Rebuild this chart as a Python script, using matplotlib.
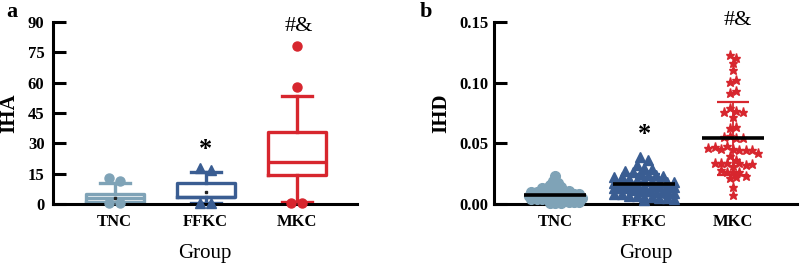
import numpy as np
import matplotlib
matplotlib.use("Agg")
import matplotlib.pyplot as plt

plt.rcParams["font.family"] = ["Liberation Serif", "DejaVu Serif"]

GROUPS = ["TNC", "FFKC", "MKC"]
COLORS = ["#7fa3b7", "#3a5d92", "#d7262e"]

# panel a: box plot summaries of IHA
IHA_Q1 = [1.2, 3.3, 14.4]
IHA_MED = [3.1, 3.6, 21.0]
IHA_Q3 = [4.8, 10.2, 35.5]
IHA_LO = [0.5, 0.5, 0.8]
IHA_HI = [10.2, 15.7, 53.6]
IHA_MEAN = [3.1, 5.8, np.nan]
IHA_FLIERS = [
    [12.9, 11.5, 0.6, 0.6],
    [17.7, 16.8, 0.3, 0.3],
    [78.4, 57.8, 0.3, 0.3],
]
IHA_TICKS = [0, 15, 30, 45, 60, 75, 90]

# panel b: individual IHD values
IHD_TNC = [0.023, 0.019, 0.017, 0.016, 0.015, 0.014, 0.013, 0.013, 0.012, 0.012,
           0.011, 0.011, 0.010, 0.010, 0.010, 0.009, 0.009, 0.009, 0.008, 0.008,
           0.008, 0.008, 0.007, 0.007, 0.007, 0.007, 0.007, 0.006, 0.006, 0.006,
           0.006, 0.006, 0.005, 0.005, 0.005, 0.005, 0.005, 0.004, 0.004, 0.004,
           0.004, 0.003, 0.003, 0.003, 0.002, 0.002, 0.002, 0.001, 0.001, 0.001]
IHD_FFKC = [0.039, 0.036, 0.032, 0.030, 0.029, 0.027, 0.026, 0.025, 0.024, 0.024,
            0.023, 0.022, 0.022, 0.021, 0.020, 0.020, 0.019, 0.019, 0.018, 0.018,
            0.017, 0.017, 0.016, 0.016, 0.015, 0.015, 0.015, 0.014, 0.014, 0.013,
            0.013, 0.013, 0.012, 0.012, 0.011, 0.011, 0.010, 0.010, 0.009, 0.009,
            0.008, 0.008, 0.007, 0.007, 0.006, 0.006, 0.005, 0.005, 0.004, 0.003]
IHD_MKC = [0.1226, 0.1207, 0.1160, 0.1105, 0.1008, 0.1022, 0.0917, 0.0930,
           0.0757, 0.0715, 0.0793, 0.0765, 0.0757, 0.0627, 0.0635,
           0.0552, 0.0563, 0.0544, 0.0544,
           0.0461, 0.0470, 0.0453, 0.0475, 0.0456, 0.0447, 0.0447, 0.0447, 0.0420,
           0.0398, 0.0365, 0.0337, 0.0337, 0.0337, 0.0315, 0.0337, 0.0323, 0.0331,
           0.0282, 0.0268, 0.0260, 0.0260, 0.0232, 0.0213, 0.0221, 0.0144, 0.0075]
IHD_TICKS = [0.00, 0.05, 0.10, 0.15]

MARKERS = ["o", "^", "*"]


def spread(values, dy, dx, max_half):
    """Row-wise horizontal spread like a dot plot."""
    values = np.asarray(values, float)
    order = np.argsort(-values, kind="stable")
    rows, cur = [], []
    for i in order:
        if cur and values[cur[0]] - values[i] > dy:
            rows.append(cur)
            cur = []
        cur.append(i)
    if cur:
        rows.append(cur)
    offs = np.zeros(len(values))
    for row in rows:
        row = sorted(row)
        n = len(row)
        step = dx if n < 2 else min(dx, 2 * max_half / (n - 1))
        offs[row] = (np.arange(n) - (n - 1) / 2) * step
    return offs


def style_axes(ax, ylabel, ticks, fmt, pad):
    for side in ("top", "right"):
        ax.spines[side].set_visible(False)
    for side in ("left", "bottom"):
        ax.spines[side].set_linewidth(2.2)
    ax.set_xticks(range(1, 4))
    ax.set_xticklabels(GROUPS, fontsize=12, fontweight="bold")
    ax.tick_params(axis="x", length=0, pad=7)
    ax.set_yticks(ticks)
    ax.set_yticklabels([fmt.format(t) for t in ticks], fontsize=12, fontweight="bold")
    ax.tick_params(axis="y", direction="in", length=9, width=2.2, pad=pad)
    ax.set_xlabel("Group", fontsize=15, labelpad=10)
    ax.set_ylabel(ylabel, fontsize=15, fontweight="bold", labelpad=6)


fig = plt.figure(figsize=(8, 2.66), dpi=100)
ax_a = fig.add_axes([0.066, 0.233, 0.38, 0.684])
ax_b = fig.add_axes([0.6175, 0.233, 0.379, 0.684])

# ---- panel a
stats = []
for i in range(3):
    stats.append({"q1": IHA_Q1[i], "med": IHA_MED[i], "q3": IHA_Q3[i],
                  "whislo": IHA_LO[i], "whishi": IHA_HI[i],
                  "mean": IHA_MEAN[i], "fliers": []})
for i, st in enumerate(stats):
    c = COLORS[i]
    ax_a.bxp([st], positions=[i + 1], widths=0.64, showfliers=False,
             showmeans=not np.isnan(st["mean"]),
             boxprops=dict(color=c, linewidth=2.4),
             medianprops=dict(color=c, linewidth=2.4),
             whiskerprops=dict(color=c, linewidth=2.4),
             capprops=dict(color=c, linewidth=2.4),
             capwidths=0.33,
             meanprops=dict(marker="s", markersize=2, markerfacecolor="#222222",
                            markeredgecolor="#222222"))
    fl = np.array(IHA_FLIERS[i])
    off = spread(fl, 3.0, 0.12, 0.1)
    ax_a.plot(i + 1 + off, fl, linestyle="none", marker=["o", "^", "o"][i],
              markersize=6.5, color=c, clip_on=False, zorder=5)

ax_a.set_xlim(0.32, 3.66)
ax_a.set_ylim(0, 90)
style_axes(ax_a, "IHA", IHA_TICKS, "{:d}", 6)
ax_a.text(2, 27.0, "*", ha="center", va="center", fontsize=19, fontweight="bold")
ax_a.text(3.02, 87.6, "#&", ha="center", va="center", fontsize=16, clip_on=False)
fig.text(0.008, 0.955, "a", fontsize=16, fontweight="bold", va="center")

# ---- panel b
ihd = [IHD_TNC, IHD_FFKC, IHD_MKC]
dys = [0.0025, 0.004, 0.0055]
dxs = [0.06, 0.085, 0.07]
halves = [0.3, 0.34, 0.33]
for i, vals in enumerate(ihd):
    vals = np.asarray(vals)
    c = COLORS[i]
    off = spread(vals, dys[i], dxs[i], halves[i])
    ax_b.plot(i + 1 + off, vals, linestyle="none", marker=MARKERS[i],
              markersize=[7, 7.5, 6.5][i], color=c, clip_on=False, zorder=3)
    m, sd = vals.mean(), vals.std(ddof=1)
    ax_b.errorbar(i + 1, m, yerr=sd, color=c, capsize=11.5, elinewidth=1.3,
                  capthick=1.6, zorder=4)
    ax_b.hlines(m, i + 1 - 0.35, i + 1 + 0.35, color="black", linewidth=2.6, zorder=5)

ax_b.set_xlim(0.31, 3.72)
ax_b.set_ylim(0, 0.15)
style_axes(ax_b, "IHD", IHD_TICKS, "{:.2f}", 4)
ax_b.text(2, 0.0575, "*", ha="center", va="center", fontsize=19, fontweight="bold")
ax_b.text(3.05, 0.151, "#&", ha="center", va="center", fontsize=16, clip_on=False)
fig.text(0.525, 0.955, "b", fontsize=16, fontweight="bold", va="center")

fig.savefig("out.png", dpi=100)
